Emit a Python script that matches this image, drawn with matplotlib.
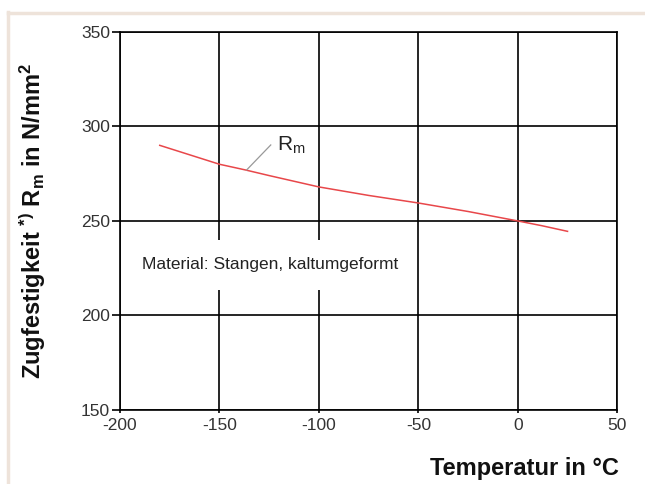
import matplotlib
matplotlib.use('Agg')
from matplotlib import pyplot as plt
from matplotlib.lines import Line2D

# values
temperature = [-180, -165, -150, -137, -125, -100, -75, -50, -25, 0, 12, 25]
strength = [290, 285, 280, 277, 274, 268, 263.5, 259.5, 255, 250, 247.5, 244.5]

xticks = [-200, -150, -100, -50, 0, 50]
yticks = [150, 200, 250, 300, 350]

plt.rcParams['font.family'] = ['Liberation Sans', 'DejaVu Sans']
plt.rcParams['mathtext.default'] = 'regular'

fig = plt.figure(figsize=(6.45, 4.84), dpi=100)
ax = fig.add_axes([0.186, 0.153, 0.771, 0.781])

ax.plot(temperature, strength, color='#e8474a', lw=1.1, zorder=3)

ax.set_xlim(xticks[0], xticks[-1])
ax.set_ylim(yticks[0], yticks[-1])
ax.set_xticks(xticks)
ax.set_yticks(yticks)
ax.set_xticklabels([str(t) for t in xticks])
ax.set_yticklabels([str(t) for t in yticks])
ax.grid(True, color='black', lw=1.2, zorder=1)
ax.set_axisbelow(True)
for sp in ax.spines.values():
    sp.set_linewidth(1.2)
ax.tick_params(axis='y', length=6, width=1.2, pad=1, labelsize=12.5, labelcolor='#333333')
ax.tick_params(axis='x', length=2, width=1.2, pad=4, labelsize=12.5, labelcolor='#333333')

# annotation for the curve
ax.plot([-136.3, -124.2], [277, 290.2], color='#999999', lw=0.9, zorder=4)
ax.text(-121, 290, r'R$_{m}$', fontsize=15, color='#222222', ha='left', va='center', zorder=5)

ax.text(-124.3, 226.7, 'Material: Stangen, kaltumgeformt', fontsize=12.5, color='#222222',
        ha='center', va='center', zorder=2,
        bbox=dict(boxstyle='square,pad=1.0', fc='white', ec='none'))

fig.text(33 / 645, 1 - 221 / 484, r'Zugfestigkeit $^{*)}$ R$_{m}$ in N/mm$^{2}$',
         rotation=90, fontsize=17, fontweight='bold', ha='center', va='center', color='#111111')
fig.text(619 / 645, 1 - 468 / 484, 'Temperatur in °C', fontsize=17, fontweight='bold',
         ha='right', va='center', color='#111111')

# light frame at the top and left of the picture
frame = '#eee3da'
fig.add_artist(Line2D([8 / 645, 8 / 645], [0, 1 - 12 / 484], color=frame, lw=2.5, transform=fig.transFigure))
fig.add_artist(Line2D([8 / 645, 1], [1 - 13 / 484, 1 - 13 / 484], color=frame, lw=2.5, transform=fig.transFigure))

fig.savefig('out.png', dpi=100)
